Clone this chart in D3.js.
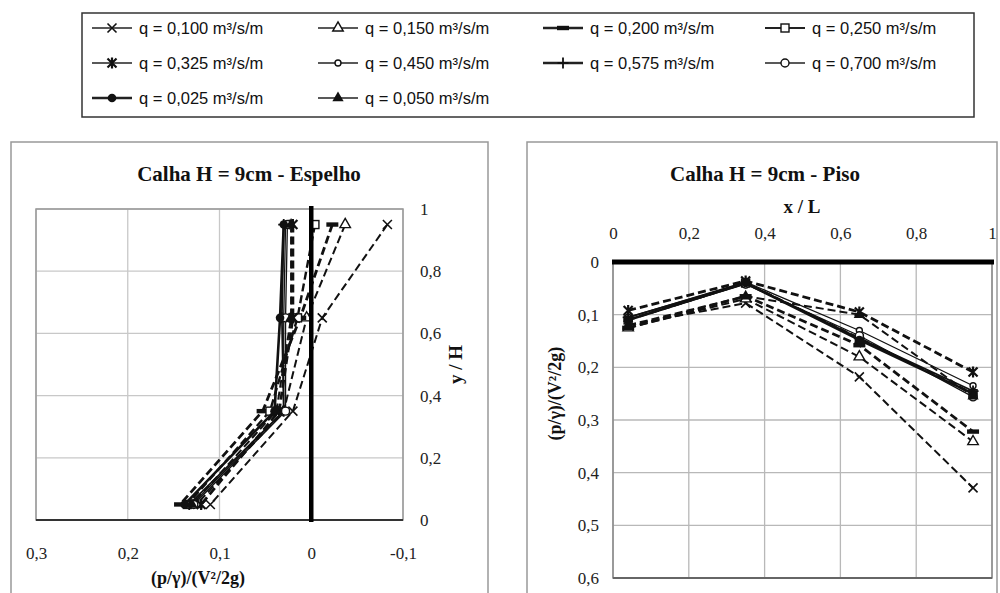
<!DOCTYPE html>
<html><head><meta charset="utf-8">
<script src="https://cdn.jsdelivr.net/npm/d3@7"></script>
<style>body{margin:0;background:#fff}svg{display:block}</style>
</head><body>
<svg id="c" width="1000" height="593"></svg>
<script>
// ---- data ----
const seriesNames = ["q = 0,100 m³/s/m","q = 0,150 m³/s/m","q = 0,200 m³/s/m","q = 0,250 m³/s/m",
  "q = 0,325 m³/s/m","q = 0,450 m³/s/m","q = 0,575 m³/s/m","q = 0,700 m³/s/m",
  "q = 0,025 m³/s/m","q = 0,050 m³/s/m"];
const markers = ["x","tri","bar","sq","ast","circS","plus","circ","fcirc","ftri"];
// Left chart (Espelho): y/H levels and pressure values
const espelhoY = [0.95, 0.65, 0.35, 0.05];
const espelho_q0100 = [-0.083, -0.012, 0.020, 0.110];
const espelho_q0150 = [-0.037, 0.005, 0.030, 0.125];
const espelho_q0200 = [-0.023, 0.012, 0.053, 0.143];
const espelho_q0250 = [-0.004, 0.015, 0.045, 0.135];
const espelho_q0325 = [0.020, 0.020, 0.035, 0.120];
const espelho_q0450 = [0.028, 0.030, 0.030, 0.130];
const espelho_q0575 = [0.030, 0.032, 0.030, 0.133];
const espelho_q0700 = [0.026, 0.028, 0.028, 0.128];
const espelho_q0025 = [0.030, 0.034, 0.040, 0.138];
const espelho_q0050 = [0.022, 0.022, 0.038, 0.130];
// Right chart (Piso): x/L positions and pressure values
const pisoX = [0.04, 0.35, 0.65, 0.95];
const piso_q0100 = [0.120, 0.078, 0.218, 0.429];
const piso_q0150 = [0.125, 0.070, 0.180, 0.341];
const piso_q0200 = [0.125, 0.065, 0.158, 0.322];
const piso_q0250 = [0.110, 0.040, 0.145, 0.250];
const piso_q0325 = [0.092, 0.036, 0.095, 0.209];
const piso_q0450 = [0.105, 0.038, 0.130, 0.235];
const piso_q0575 = [0.105, 0.040, 0.145, 0.245];
const piso_q0700 = [0.110, 0.042, 0.140, 0.256];
const piso_q0025 = [0.110, 0.040, 0.148, 0.250];
const piso_q0050 = [0.120, 0.065, 0.100, 0.255];
const espelhoXTicks = [0.3, 0.2, 0.1, 0, -0.1];
const espelhoYTicks = [0, 0.2, 0.4, 0.6, 0.8, 1];
const pisoXTicks = [0, 0.2, 0.4, 0.6, 0.8, 1];
const pisoYTicks = [0, 0.1, 0.2, 0.3, 0.4, 0.5, 0.6];

const espelhoVals = [espelho_q0100,espelho_q0150,espelho_q0200,espelho_q0250,espelho_q0325,
  espelho_q0450,espelho_q0575,espelho_q0700,espelho_q0025,espelho_q0050];
const pisoVals = [piso_q0100,piso_q0150,piso_q0200,piso_q0250,piso_q0325,
  piso_q0450,piso_q0575,piso_q0700,piso_q0025,piso_q0050];
// line styles: [width, dash]
const lineStyle = [[2,"8,4"],[2,"8,4"],[2.8,"8,4"],[2.4,"8,4"],[2.8,"8,4"],
  [1.3,null],[1.8,null],[1.3,null],[2.6,null],[2,"8,4"]];
const legendStyle = [1.3,1.3,2.6,2.2,1.3,1.3,2.6,1.3,2.6,1.3];

const fmt = v => (String(+v.toFixed(2))).replace(".", ",");
const svg = d3.select("#c");

function drawMarker(g, type){
  const k = "#111";
  switch(type){
    case "x": g.append("path").attr("d","M-4.5,-4.5L4.5,4.5M-4.5,4.5L4.5,-4.5").attr("stroke",k).attr("stroke-width",1.6).attr("fill","none"); break;
    case "tri": g.append("path").attr("d",d3.symbol(d3.symbolTriangle,48)()).attr("fill","#fff").attr("stroke",k).attr("stroke-width",1.4); break;
    case "ftri": g.append("path").attr("d",d3.symbol(d3.symbolTriangle,55)()).attr("fill",k); break;
    case "bar": g.append("rect").attr("x",-6).attr("y",-2.2).attr("width",12).attr("height",4.4).attr("fill",k); break;
    case "sq": g.append("rect").attr("x",-4).attr("y",-4).attr("width",8).attr("height",8).attr("fill","#fff").attr("stroke",k).attr("stroke-width",1.4); break;
    case "ast": g.append("path").attr("d","M-4.5,-4.5L4.5,4.5M-4.5,4.5L4.5,-4.5M0,-5.5L0,5.5").attr("stroke",k).attr("stroke-width",2.2).attr("fill","none"); break;
    case "circS": g.append("circle").attr("r",3).attr("fill","#fff").attr("stroke",k).attr("stroke-width",1.4); break;
    case "plus": g.append("path").attr("d","M-5.5,0L5.5,0M0,-5.5L0,5.5").attr("stroke",k).attr("stroke-width",1.8); break;
    case "circ": g.append("circle").attr("r",4).attr("fill","#fff").attr("stroke",k).attr("stroke-width",1.4); break;
    case "fcirc": g.append("circle").attr("r",4.3).attr("fill",k); break;
  }
}

// ---- legend ----
svg.append("rect").attr("x",82).attr("y",13).attr("width",892).attr("height",104)
  .attr("fill","#fff").attr("stroke","#333").attr("stroke-width",1.5);
const legCols = [92, 318, 543, 765];
const legRows = [28, 63, 98];
seriesNames.forEach((name,i)=>{
  const cx = legCols[i%4], cy = legRows[Math.floor(i/4)];
  const g = svg.append("g");
  g.append("line").attr("x1",cx).attr("x2",cx+40).attr("y1",cy).attr("y2",cy)
    .attr("stroke","#222").attr("stroke-width",legendStyle[i]);
  drawMarker(g.append("g").attr("transform",`translate(${cx+20},${cy})`), markers[i]);
  g.append("text").attr("x",cx+47).attr("y",cy).attr("dy","0.35em")
    .attr("font-family","Liberation Sans, Arial, sans-serif").attr("font-size",16.5)
    .attr("fill","#111").text(name);
});

// ---- panels ----
svg.append("rect").attr("x",11).attr("y",142).attr("width",477).attr("height",470)
  .attr("fill","#fff").attr("stroke","#999").attr("stroke-width",1.5);
svg.append("rect").attr("x",527).attr("y",142).attr("width",470).attr("height",470)
  .attr("fill","#fff").attr("stroke","#999").attr("stroke-width",1.5);

const serif = "Liberation Serif, Times New Roman, serif";

// ---- left chart ----
{
  const x = d3.scaleLinear().domain([0.3,-0.1]).range([36,403]);
  const y = d3.scaleLinear().domain([0,1]).range([520,209]);
  const g = svg.append("g");
  g.append("text").attr("x",249).attr("y",181).attr("text-anchor","middle")
    .attr("font-family",serif).attr("font-weight","bold").attr("font-size",21).attr("fill","#111")
    .text("Calha H = 9cm - Espelho");
  g.selectAll(".gx").data(espelhoXTicks.filter(t=>t!==0)).join("line")
    .attr("x1",d=>x(d)).attr("x2",d=>x(d)).attr("y1",y(0)).attr("y2",y(1)).attr("stroke","#c8c8c8").attr("stroke-width",1.3);
  g.selectAll(".gy").data(espelhoYTicks).join("line")
    .attr("x1",x(0.3)).attr("x2",x(-0.1)).attr("y1",d=>y(d)).attr("y2",d=>y(d)).attr("stroke","#c8c8c8").attr("stroke-width",1.3);
  g.append("rect").attr("x",x(0.3)).attr("y",y(1)).attr("width",x(-0.1)-x(0.3)).attr("height",y(0)-y(1))
    .attr("fill","none").attr("stroke","#999").attr("stroke-width",1.5);
  g.append("line").attr("x1",x(0.3)).attr("x2",x(-0.1)).attr("y1",y(0)).attr("y2",y(0)).attr("stroke","#333").attr("stroke-width",2.2);
  const ax = d3.axisBottom(x).tickValues(espelhoXTicks).tickFormat(fmt).tickSize(0).tickPadding(0);
  const axg = g.append("g").attr("transform",`translate(0,547)`).call(ax);
  axg.select(".domain").remove();
  axg.selectAll("text").attr("font-family",serif).attr("font-size",17).attr("fill","#222");
  const ay = d3.axisRight(y).tickValues(espelhoYTicks).tickFormat(fmt).tickSize(0).tickPadding(0);
  const ayg = g.append("g").attr("transform",`translate(420,0)`).call(ay);
  ayg.select(".domain").remove();
  ayg.selectAll("text").attr("font-family",serif).attr("font-size",17).attr("fill","#222");
  g.append("text").attr("x",198).attr("y",584).attr("text-anchor","middle")
    .attr("font-family",serif).attr("font-weight","bold").attr("font-size",18).attr("fill","#111")
    .text("(p/γ)/(V²/2g)");
  g.append("text").attr("transform",`translate(462,${y(0.5)}) rotate(-90)`).attr("text-anchor","middle")
    .attr("font-family",serif).attr("font-weight","bold").attr("font-size",19).attr("fill","#111")
    .text("y / H");
  const line = d3.line().x(d=>x(d[0])).y(d=>y(d[1]));
  espelhoVals.forEach((vals,i)=>{
    const pts = vals.map((v,j)=>[v, espelhoY[j]]);
    g.append("path").attr("d",line(pts)).attr("fill","none").attr("stroke","#111")
      .attr("stroke-width",lineStyle[i][0]).attr("stroke-dasharray",lineStyle[i][1]);
    pts.forEach(p=>drawMarker(g.append("g").attr("transform",`translate(${x(p[0])},${y(p[1])})`), markers[i]));
  });
  g.append("line").attr("x1",x(0)).attr("x2",x(0)).attr("y1",y(1)-3).attr("y2",y(0)+2).attr("stroke","#000").attr("stroke-width",4.5);
}

// ---- right chart ----
{
  const x = d3.scaleLinear().domain([0,1]).range([613,992]);
  const y = d3.scaleLinear().domain([0,0.6]).range([262,578]);
  const g = svg.append("g");
  g.append("text").attr("x",765).attr("y",181).attr("text-anchor","middle")
    .attr("font-family",serif).attr("font-weight","bold").attr("font-size",21).attr("fill","#111")
    .text("Calha H = 9cm - Piso");
  g.selectAll(".gx").data(pisoXTicks).join("line")
    .attr("x1",d=>x(d)).attr("x2",d=>x(d)).attr("y1",y(0)).attr("y2",y(0.6)).attr("stroke","#b8b8b8").attr("stroke-width",1.3);
  g.selectAll(".gy").data(pisoYTicks).join("line")
    .attr("x1",x(0)).attr("x2",x(1)).attr("y1",d=>y(d)).attr("y2",d=>y(d)).attr("stroke","#b8b8b8").attr("stroke-width",1.3);
  g.append("rect").attr("x",x(0)).attr("y",y(0)).attr("width",x(1)-x(0)).attr("height",y(0.6)-y(0))
    .attr("fill","none").attr("stroke","#888").attr("stroke-width",1.5);
  g.append("line").attr("x1",x(0)).attr("x2",x(1)).attr("y1",y(0.6)).attr("y2",y(0.6)).attr("stroke","#666").attr("stroke-width",2);
  const ax = d3.axisTop(x).tickValues(pisoXTicks).tickFormat(fmt).tickSize(0).tickPadding(0);
  const axg = g.append("g").attr("transform",`translate(0,239)`).call(ax);
  axg.select(".domain").remove();
  axg.selectAll("text").attr("font-family",serif).attr("font-size",17).attr("fill","#222");
  const ay = d3.axisLeft(y).tickValues(pisoYTicks).tickFormat(fmt).tickSize(0).tickPadding(0);
  const ayg = g.append("g").attr("transform",`translate(599,0)`).call(ay);
  ayg.select(".domain").remove();
  ayg.selectAll("text").attr("font-family",serif).attr("font-size",17).attr("fill","#222");
  g.append("text").attr("x",802).attr("y",213).attr("text-anchor","middle")
    .attr("font-family",serif).attr("font-weight","bold").attr("font-size",19).attr("fill","#111")
    .text("x / L");
  g.append("text").attr("transform",`translate(561,${y(0.25)}) rotate(-90)`).attr("text-anchor","middle")
    .attr("font-family",serif).attr("font-weight","bold").attr("font-size",18).attr("fill","#111")
    .text("(p/γ)/(V²/2g)");
  const line = d3.line().x(d=>x(d[0])).y(d=>y(d[1]));
  pisoVals.forEach((vals,i)=>{
    const pts = vals.map((v,j)=>[pisoX[j], v]);
    g.append("path").attr("d",line(pts)).attr("fill","none").attr("stroke","#111")
      .attr("stroke-width",lineStyle[i][0]).attr("stroke-dasharray",lineStyle[i][1]);
    pts.forEach(p=>drawMarker(g.append("g").attr("transform",`translate(${x(p[0])},${y(p[1])})`), markers[i]));
  });
  g.append("line").attr("x1",x(0)-1).attr("x2",x(1)+2).attr("y1",y(0)).attr("y2",y(0)).attr("stroke","#000").attr("stroke-width",5);
}
</script>
</body></html>
